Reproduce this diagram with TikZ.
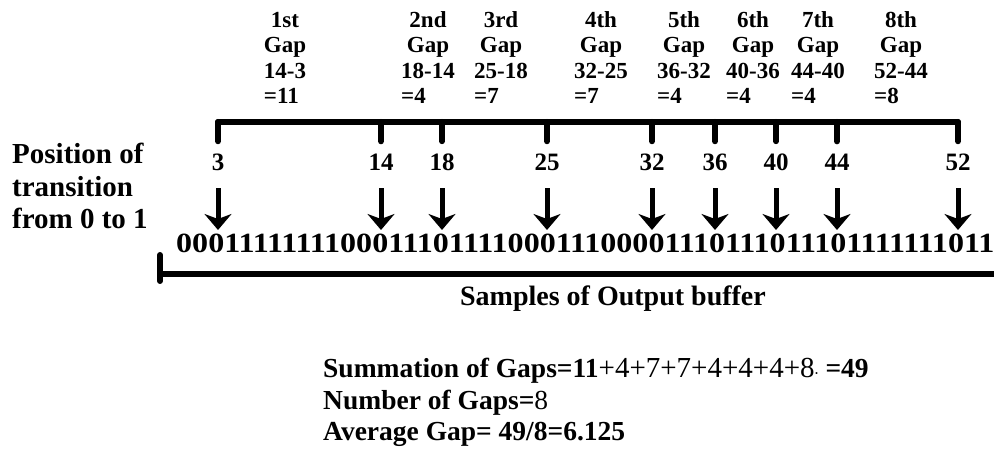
\documentclass[tikz,border=0pt]{standalone}
\usepackage{graphicx}
\usepackage{fontspec}
\setmainfont{Liberation Serif}
\usetikzlibrary{arrows.meta}

\begin{document}
\begin{tikzpicture}[x=1pt, y=-1pt,
    every node/.style={inner sep=0pt, font=\bfseries},
    gaplabel/.style={anchor=north, font=\fontsize{23}{25.5}\selectfont\bfseries},
    poslabel/.style={anchor=base, font=\fontsize{25}{28}\selectfont\bfseries},
    bigtext/.style={font=\fontsize{28}{32}\selectfont\bfseries},
    bracket/.style={line width=6pt, line cap=round, line join=round},
    tick/.style={bracket, shorten >=13pt},
    pointer/.style={-{Stealth[length=16pt, width=27pt, inset=5pt]}, line width=5pt, shorten <=17pt}
]
    \useasboundingbox (0,0) rectangle (994,454);

    % Gap labels
    \foreach \x/\ord/\diff/\res in {285/1st/14-3/11, 428/2nd/18-14/4, 501/3rd/25-18/7, 601/4th/32-25/7,
                                    684/5th/36-32/4, 753/6th/40-36/4, 818/7th/44-40/4, 901/8th/52-44/8}
        \node (gap\ord) [gaplabel] at (\x,9)
            {\begin{tabular}{@{}c@{}}\ord\\Gap\\\diff\\\multicolumn{1}{@{}l@{}}{=\res}\end{tabular}};

    % Bracket over the positions
    \coordinate (barL) at (218,122);
    \coordinate (barR) at (958,122);
    \draw [bracket] (barL) -- (barR);

    % Left label
    \node (poslbl) [bigtext, font=\fontsize{29}{32.5}\selectfont\bfseries, anchor=north west, align=left]
        at (12,143) {Position of\\transition\\from 0 to 1};

    % Output buffer
    \node (bits) [anchor=base west] at (176,253)
        {\resizebox{818pt}{18.5pt}{000111111110001110111100011100001110111011101111111011}};

    % Positions, ticks and arrows
    \foreach \p/\x in {3/218, 14/381, 18/442, 25/547, 32/652, 36/715, 40/776, 44/837, 52/958} {
        \node (n\p) [poslabel] at (\x,171) {\p};
        \coordinate (b\p) at (\x,230);
        \draw [tick] (n\p.north |- barL) -- (n\p.north);
        \draw [pointer] (n\p) -- (b\p);
    }

    % Bracket under the samples
    \coordinate (bufL) at (160,255);
    \coordinate (bufC) at (160,274);
    \coordinate (bufR) at (1000,274);
    \draw [bracket] (bufL) -- ++(0,26);
    \draw [bracket] (bufC) -- (bufR);
    \node (samples) [bigtext, anchor=base] at (613,306) {Samples of Output buffer};

    % Summary
    \node (summary) [bigtext, font=\fontsize{27.5}{31.5}\selectfont\bfseries, anchor=north west, align=left] at (323,358)
        {Summation of Gaps=11{\fontsize{29}{31}\selectfont\mdseries+4+7+7+4+4+4+8}{\fontsize{12}{12}\selectfont·}\ =49\\
         Number of Gaps={\mdseries 8}\\
         Average Gap= 49/8=6.125};
\end{tikzpicture}
\end{document}
